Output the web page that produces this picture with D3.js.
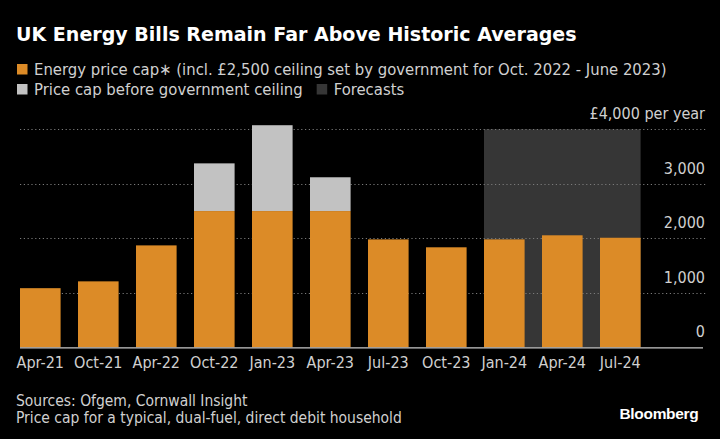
<!DOCTYPE html>
<html>
<head>
<meta charset="utf-8">
<script src="https://cdn.jsdelivr.net/npm/d3@7"></script>
<style>
  html, body { margin: 0; padding: 0; background: #000; }
  svg { display: block; }
</style>
</head>
<body>
<svg id="chart" width="720" height="439"></svg>
<script>
// ---- data ----
const categories = ["Apr-21","Oct-21","Apr-22","Oct-22","Jan-23","Apr-23","Jul-23","Oct-23","Jan-24","Apr-24","Jul-24"];
const capValues = [1085, 1210, 1870, 2500, 2500, 2500, 1980, 1835, 1980, 2055, 2010];
const preCeilingValues = [null, null, null, 3375, 4075, 3120, null, null, null, null, null];
const forecastCategories = ["Jan-24", "Apr-24", "Jul-24"];
const yTicks = [0, 1000, 2000, 3000, 4000];
const yTickLabels = ["0", "1,000", "2,000", "3,000", "£4,000 per year"];

const titleText = "UK Energy Bills Remain Far Above Historic Averages";
const legendItems = [
  {label: "Energy price cap\u2217 (incl. £2,500 ceiling set by government for Oct. 2022 - June 2023)", color: "#dc8b27"},
  {label: "Price cap before government ceiling", color: "#c2c2c2"},
  {label: "Forecasts", color: "#363636"}
];
const footnotes = ["Sources: Ofgem, Cornwall Insight", "Price cap for a typical, dual-fuel, direct debit household"];

// ---- layout ----
const W = 720, H = 439;
const plotLeft = 20, plotRight = 706, axisRight = 703;
const yBottom = 347.3, yTop = 129.3;
const narrow = "'Liberation Sans Narrow', 'DejaVu Sans Condensed', 'Roboto Condensed', Roboto, sans-serif";

// fit a text element's font size so its width matches a target
function fitWidth(sel, target) {
  const fs = +sel.attr("font-size") || 16;
  const w = sel.node().getComputedTextLength();
  if (w > 0) sel.attr("font-size", (fs * target / w).toFixed(2));
  return sel;
}

const svg = d3.select("#chart");
svg.append("rect").attr("width", W).attr("height", H).attr("fill", "#000");

const x = d3.scaleBand().domain(categories).range([20, 640.6]).paddingInner(0.3).paddingOuter(0);
const y = d3.scaleLinear().domain([0, 4000]).range([yBottom, yTop]);

// forecast band
const fx0 = x(forecastCategories[0]);
const fx1 = x(forecastCategories[forecastCategories.length - 1]) + x.bandwidth();
svg.append("rect")
  .attr("x", fx0).attr("y", y(4000))
  .attr("width", fx1 - fx0).attr("height", y(0) - y(4000))
  .attr("fill", legendItems[2].color);

// gridlines
svg.append("g").selectAll("line")
  .data(yTicks.filter(d => d > 0))
  .join("line")
  .attr("x1", plotLeft).attr("x2", plotRight)
  .attr("y1", d => Math.round(y(d)) + 0.5).attr("y2", d => Math.round(y(d)) + 0.5)
  .attr("stroke", "#7a7a7a").attr("stroke-width", 1)
  .attr("stroke-dasharray", "1.2,2.6");

// gray (pre-ceiling) bars
svg.append("g").selectAll("rect")
  .data(categories.map((c, i) => ({c, v: preCeilingValues[i], base: capValues[i]})).filter(d => d.v != null))
  .join("rect")
  .attr("x", d => x(d.c)).attr("width", x.bandwidth())
  .attr("y", d => y(d.v)).attr("height", d => y(d.base) - y(d.v))
  .attr("fill", legendItems[1].color);

// orange bars
svg.append("g").selectAll("rect")
  .data(categories.map((c, i) => ({c, v: capValues[i]})))
  .join("rect")
  .attr("x", d => x(d.c)).attr("width", x.bandwidth())
  .attr("y", d => y(d.v)).attr("height", d => y(0) - y(d.v))
  .attr("fill", legendItems[0].color);

// baseline axis
svg.append("line")
  .attr("x1", plotLeft).attr("x2", axisRight)
  .attr("y1", yBottom + 0.5).attr("y2", yBottom + 0.5)
  .attr("stroke", "#c8c8c8").attr("stroke-width", 1.2);

// y tick labels (above gridlines, right aligned)
svg.append("g").selectAll("text")
  .data(yTicks)
  .join("text")
  .attr("x", 705)
  .attr("y", d => y(d) - 10)
  .attr("text-anchor", "end")
  .attr("fill", "#d0d0d0")
  .attr("font-family", narrow).attr("font-size", 16)
  .text((d, i) => yTickLabels[i]);

// x axis labels
const xAxis = d3.axisBottom(x).tickSize(0).tickPadding(0);
const gx = svg.append("g").attr("transform", `translate(0, ${yBottom})`).call(xAxis);
gx.select(".domain").remove();
gx.selectAll("text")
  .attr("y", 16)
  .attr("dy", "0.32em")
  .attr("fill", "#d0d0d0")
  .attr("font-family", narrow).attr("font-size", 16);

// title
const title = svg.append("text")
  .attr("x", 16).attr("y", 41)
  .attr("fill", "#fff")
  .attr("font-family", "'DejaVu Sans', Verdana, sans-serif")
  .attr("font-weight", "bold").attr("font-size", 19)
  .text(titleText);
fitWidth(title, 561);

// legend
const lg = svg.append("g").attr("font-family", narrow).attr("fill", "#d0d0d0");
// row 1
lg.append("rect").attr("x", 17).attr("y", 64).attr("width", 10.5).attr("height", 10.5).attr("fill", legendItems[0].color);
const t1 = lg.append("text").attr("x", 34).attr("y", 75).attr("font-size", 16.5).text(legendItems[0].label);
fitWidth(t1, 633);
const legendFs = +t1.attr("font-size");
// row 2
lg.append("rect").attr("x", 17).attr("y", 84).attr("width", 10.5).attr("height", 10.5).attr("fill", legendItems[1].color);
const t2 = lg.append("text").attr("x", 34).attr("y", 95).attr("font-size", legendFs).text(legendItems[1].label);
const t2w = t2.node().getComputedTextLength();
lg.append("rect").attr("x", 34 + t2w + 14).attr("y", 84).attr("width", 10.5).attr("height", 10.5).attr("fill", legendItems[2].color);
lg.append("text").attr("x", 34 + t2w + 31).attr("y", 95).attr("font-size", legendFs).text(legendItems[2].label);

// footnotes
const fn = svg.append("g").selectAll("text")
  .data(footnotes)
  .join("text")
  .attr("x", 16)
  .attr("y", (d, i) => 405.5 + i * 17)
  .attr("fill", "#d0d0d0")
  .attr("font-family", narrow).attr("font-size", 15)
  .text(d => d);
fitWidth(d3.select(fn.nodes()[1]), 386);
d3.select(fn.nodes()[0]).attr("font-size", d3.select(fn.nodes()[1]).attr("font-size"));

// Bloomberg logo text
svg.append("text")
  .attr("x", 698.5).attr("y", 419)
  .attr("text-anchor", "end")
  .attr("fill", "#fff")
  .attr("font-family", "'Liberation Sans', Arial, sans-serif")
  .attr("font-weight", "bold").attr("font-size", 15.5)
  .attr("letter-spacing", -0.3)
  .text("Bloomberg");
</script>
</body>
</html>
